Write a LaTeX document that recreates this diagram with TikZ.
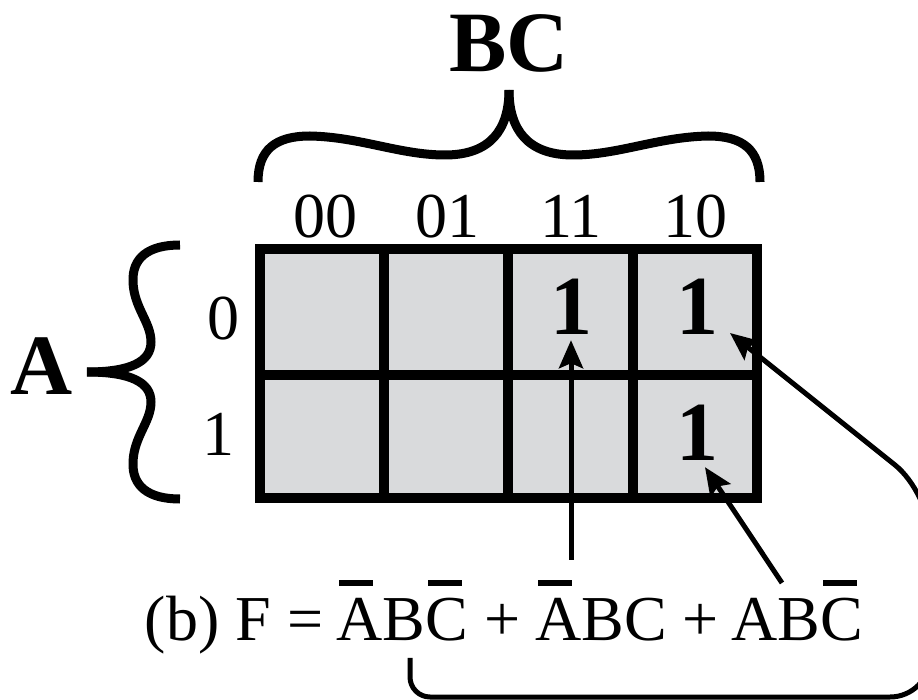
\documentclass[tikz,border=0pt]{standalone}
\usepackage{fontspec}
\setmainfont{Liberation Serif}
\usetikzlibrary{arrows.meta,calc}
\newcommand{\ovl}[1]{\leavevmode\rlap{\hspace{0.04em}\rule[0.85em]{0.54em}{0.085em}}#1}
\definecolor{cellgray}{RGB}{217,218,220}
\begin{document}
\begin{tikzpicture}[x=1pt,y=-1pt,
  lbl/.style={inner sep=0pt,anchor=base,font=\fontsize{64}{64}\selectfont},
  one/.style={inner sep=0pt,anchor=base,font=\fontsize{84}{84}\selectfont\bfseries},
  big/.style={inner sep=0pt,anchor=base,font=\fontsize{86}{86}\selectfont\bfseries},
  brace/.style={line width=9pt,line cap=butt},
  gridline/.style={line width=10pt},
  conn/.style={line width=5pt},
  arr/.style={conn,-{Stealth[length=28pt,width=24pt,inset=5pt]}}]
\clip (0,0) rectangle (918,700);
\useasboundingbox (0,0) rectangle (918,700);

% grid
\fill[cellgray] (260,249) rectangle (757,498);
\draw[gridline] (260,249) rectangle (757,498);
\draw[gridline] (260,375) -- (757,375);
\foreach \x in {384,508,633} \draw[gridline] (\x,249) -- (\x,498);

% labels
\node[big] (BC) at (509,72) {BC};
\node[big] (A) at (42,395) {A};
\node[lbl] (c00) at (325,238) {00};
\node[lbl] (c01) at (447,238) {01};
\node[lbl] (c11) at (571,238) {11};
\node[lbl] (c10) at (695,238) {10};
\node[lbl] (r0) at (223,340) {0};
\node[lbl] (r1) at (218,455) {1};

% cell entries
\node[one] (m3) at (571,335) {1};
\node[one] (m2) at (697,335) {1};
\node[one] (m6) at (697,460) {1};

% braces
\draw[brace] (258,182) .. controls (258,150) and (275,136) .. (310,136) .. controls (360,137) and (400,155) .. (445,155) .. controls (490,155) and (509,130) .. (509,90);
\draw[brace] (760,182) .. controls (760,150) and (743,136) .. (708,136) .. controls (658,137) and (618,155) .. (573,155) .. controls (528,155) and (509,130) .. (509,90);
\draw[brace] (180,245) .. controls (148,245) and (132,258) .. (133,282) .. controls (134,308) and (151,322) .. (151,342) .. controls (151,362) and (130,372) .. (87,372);
\draw[brace] (180,499) .. controls (148,499) and (132,486) .. (133,462) .. controls (134,436) and (151,422) .. (151,402) .. controls (151,382) and (130,372) .. (87,372);

% formula
\node[lbl] (f0) at (234,640) {(b) F =};
\node[lbl] (t1) at (402,640) {\ovl{A}B\ovl{C}};
\node[lbl] (p1) at (503,640) {+};
\node[lbl] (t2) at (601,640) {\ovl{A}BC};
\node[lbl] (p2) at (701,640) {+};
\node[lbl] (t3) at (797,640) {AB\ovl{C}};

% connectors
\draw[arr] ($(t2.north -| m3.south)+(0,-20)$) -- ($(m3.south)+(0,5)$);
\draw[arr] ($(t3.north)+(-15,3)$) -- ($(m6.south)+(8,7)$);
\draw[arr] ($(t1.south)+(8,17)$) [rounded corners=20pt] -- (410,697) [rounded corners=40pt] -- (930,697) [rounded corners=45pt] -- (930,493) [sharp corners] -- ($(m2.base)+(33,-2)$);
\end{tikzpicture}
\end{document}
